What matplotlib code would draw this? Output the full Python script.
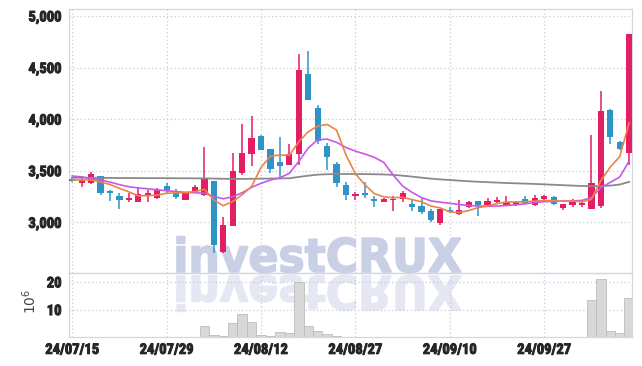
import matplotlib
matplotlib.use("Agg")
import matplotlib.pyplot as plt
import matplotlib.patheffects as pe
from matplotlib.textpath import TextPath
from matplotlib.patches import PathPatch
from matplotlib.font_manager import FontProperties
from matplotlib.transforms import Affine2D, IdentityTransform

# trading days (2024)
dates = ["07/15", "07/16", "07/17", "07/18", "07/19", "07/22", "07/23", "07/24", "07/25", "07/26",
         "07/29", "07/30", "07/31", "08/01", "08/02", "08/05", "08/06", "08/07", "08/08", "08/09",
         "08/12", "08/13", "08/14", "08/16", "08/19", "08/20", "08/21", "08/22", "08/23", "08/26",
         "08/27", "08/28", "08/29", "08/30", "09/02", "09/03", "09/04", "09/05", "09/06", "09/09",
         "09/10", "09/11", "09/12", "09/13", "09/19", "09/20", "09/23", "09/24", "09/25", "09/26",
         "09/27", "09/30", "10/02", "10/04", "10/07", "10/08", "10/10", "10/11", "10/14", "10/15"]

opens = [3420, 3385, 3385, 3450, 3305, 3255, 3215, 3200, 3265, 3235,
         3350, 3285, 3215, 3285, 3265, 3400, 2710, 2965, 3475, 3665,
         3835, 3710, 3580, 3560, 3665, 4440, 4110, 3740, 3565, 3360,
         3258, 3285, 3230, 3200, 3215, 3222, 3178, 3158, 3110, 2990,
         3120, 3078, 3145, 3205, 3168, 3198, 3172, 3165, 3222, 3165,
         3228, 3245, 3140, 3172, 3168, 3132, 3160, 4085, 3780, 3667]
highs = [3440, 3450, 3485, 3450, 3315, 3280, 3280, 3345, 3310, 3330,
         3380, 3320, 3295, 3360, 3730, 3400, 3050, 3675, 3950, 4030,
         3850, 3715, 3830, 3755, 4630, 4660, 4140, 3770, 3580, 3395,
         3298, 3395, 3255, 3240, 3255, 3305, 3225, 3238, 3130, 3130,
         3150, 3215, 3210, 3210, 3232, 3242, 3255, 3205, 3255, 3265,
         3262, 3258, 3180, 3226, 3195, 3845, 4275, 4095, 3790, 4823]
lows = [3390, 3345, 3375, 3265, 3210, 3125, 3200, 3195, 3200, 3225,
        3285, 3230, 3215, 3280, 3260, 2705, 2705, 2965, 3460, 3545,
        3700, 3475, 3440, 3555, 3555, 4185, 3755, 3505, 3345, 3215,
        3215, 3240, 3145, 3195, 3110, 3195, 3105, 3080, 3005, 2970,
        3095, 3075, 3140, 3065, 3165, 3185, 3170, 3160, 3180, 3160,
        3220, 3172, 3115, 3152, 3152, 3130, 3140, 3760, 3705, 3555]
closes = [3400, 3410, 3465, 3280, 3280, 3215, 3235, 3275, 3285, 3315,
          3300, 3250, 3290, 3340, 3420, 2780, 2975, 3495, 3670, 3820,
          3700, 3520, 3550, 3660, 4475, 4185, 3790, 3635, 3385, 3265,
          3275, 3262, 3205, 3230, 3225, 3288, 3150, 3103, 3025, 3128,
          3100, 3120, 3198, 3168, 3206, 3216, 3196, 3197, 3185, 3232,
          3252, 3175, 3177, 3200, 3184, 3380, 4080, 3830, 3710, 4823]

# volume in millions
volume = [0, 0, 0, 0, 0, 0, 0, 0, 0, 0,
          0, 0, 0, 0, 4.2, 1.0, 0.3, 5.3, 8.3, 5.4,
          1.0, 0.6, 1.8, 1.4, 19.9, 4.0, 2.1, 1.1, 0.6, 0.25,
          0.25, 0.25, 0.25, 0, 0.25, 0, 0, 0.25, 0, 0,
          0, 0, 0, 0, 0, 0, 0, 0, 0, 0,
          0, 0, 0, 0, 0, 13.4, 21.2, 2.4, 1.4, 14.0]

ma5 = [3410, 3410, 3410, 3390, 3367, 3330, 3295, 3257, 3258, 3265,
       3282, 3285, 3288, 3299, 3320, 3216, 3161, 3202, 3268, 3348,
       3532, 3641, 3652, 3650, 3781, 3878, 3932, 3949, 3894, 3652,
       3470, 3364, 3278, 3247, 3239, 3242, 3220, 3199, 3158, 3139,
       3101, 3095, 3114, 3143, 3158, 3182, 3197, 3197, 3200, 3205,
       3212, 3208, 3204, 3207, 3198, 3223, 3404, 3535, 3637, 3965]
ma20 = [3449, 3440, 3425, 3410, 3390, 3365, 3345, 3333, 3325, 3315,
        3306, 3298, 3290, 3287, 3281, 3250, 3228, 3248, 3287, 3339,
        3378, 3410, 3432, 3475, 3590, 3720, 3800, 3806, 3775, 3725,
        3690, 3662, 3630, 3581, 3458, 3352, 3290, 3240, 3208, 3195,
        3185, 3172, 3163, 3158, 3155, 3158, 3163, 3170, 3180, 3192,
        3200, 3203, 3206, 3208, 3212, 3240, 3335, 3387, 3439, 3594]
ma_long = [3432, 3432, 3431, 3431, 3430, 3430, 3429, 3429, 3428, 3428,
           3428, 3427, 3427, 3426, 3426, 3424, 3422, 3421, 3421, 3422,
           3423, 3424, 3425, 3427, 3440, 3452, 3462, 3466, 3468, 3468,
           3468, 3467, 3466, 3464, 3460, 3452, 3443, 3433, 3423, 3416,
           3410, 3404, 3398, 3393, 3389, 3385, 3381, 3378, 3375, 3372,
           3368, 3364, 3360, 3356, 3352, 3350, 3352, 3356, 3366, 3392]

tick_dates = ["07/15", "07/29", "08/12", "08/27", "09/10", "09/27"]
price_ticks = [3000, 3500, 4000, 4500, 5000]
vol_ticks = [10, 20]

UP = "#e31e64"
DOWN = "#2e94c6"
GRID = "#c9cbdd"
FRAME = "#d6d6de"
TXT = "#262626"
LABEL_FONT = ["Roboto Condensed", "Liberation Sans Narrow", "Roboto"]
bolder = [pe.withStroke(linewidth=0.7, foreground=TXT)]

fig = plt.figure(figsize=(6.42, 3.66), dpi=100)
fig.patch.set_facecolor("white")
ax = fig.add_axes([0.1067, 0.2549, 0.8777, 0.7197])
axv = fig.add_axes([0.1067, 0.0784, 0.8777, 0.1765], sharex=ax)
for a in (ax, axv):
    a.patch.set_visible(False)
    for s in a.spines.values():
        s.set_color(FRAME)
        s.set_linewidth(0.9)
    a.tick_params(length=0, labelsize=10.5, colors=TXT)

x = list(range(len(dates)))

# candles
for i in x:
    o, h, l, c = opens[i], highs[i], lows[i], closes[i]
    col = UP if c >= o else DOWN
    ax.vlines(i, l, h, color=col, linewidth=1.1, zorder=3)
    body = max(abs(c - o), 10)
    ax.bar(i, body, bottom=min(o, c), width=0.66, color=col, zorder=4)

ax.plot(x, ma_long, color="#8a8a8a", linewidth=1.3, zorder=5)
ax.plot(x, ma20, color="#c957e8", linewidth=1.2, zorder=5)
ax.plot(x, ma5, color="#ec8448", linewidth=1.2, zorder=6)

axv.bar(x, volume, width=1.0, color="#d8d8d8", edgecolor="#bdbdbd", linewidth=0.6, zorder=3)

ax.set_xlim(-0.4, 59.3)
ax.set_ylim(2512, 5064)
axv.set_ylim(0, 23.3)

tick_pos = [dates.index(d) for d in tick_dates]
axv.set_xticks(tick_pos)
axv.set_xticklabels(["24/" + d for d in tick_dates], fontweight="bold", family=LABEL_FONT)
plt.setp(ax.get_xticklabels(), visible=False)
ax.set_yticks(price_ticks)
ax.set_yticklabels([f"{v:,}" for v in price_ticks], fontweight="bold", family=LABEL_FONT)
axv.set_yticks(vol_ticks)
axv.set_yticklabels([str(v) for v in vol_ticks], fontweight="bold", family=LABEL_FONT)
ax.tick_params(axis="y", pad=5)
axv.tick_params(axis="y", pad=5)
axv.tick_params(axis="x", pad=4)
for lab in ax.get_yticklabels() + axv.get_yticklabels() + axv.get_xticklabels():
    lab.set_path_effects(bolder)

for a in (ax, axv):
    a.grid(True, color=GRID, linestyle=(0, (1, 2)), linewidth=0.9)
    a.set_axisbelow(True)

axv.set_ylabel("$10^6$", fontsize=10, color="#444444")
axv.yaxis.set_label_coords(-0.053, 0.55)

# watermark with reflection
fp = FontProperties(family="DejaVu Sans", weight="bold")
tp = TextPath((0, 0), "investCRUX", size=1, prop=fp)
ext = tp.get_extents()
x0, x1 = 177, 461
sx = (x1 - x0) / ext.width
sy = 36 / ext.height
top_t = Affine2D().translate(-ext.x0, 0).scale(sx, sy).translate(x0, 366 - 272)
bot_t = Affine2D().translate(-ext.x0, 0).scale(sx, -sy).translate(x0, 366 - 276)
fig.add_artist(PathPatch(tp, transform=top_t + IdentityTransform(), facecolor="#c9d0e6",
                         edgecolor="#c9d0e6", linewidth=1.2, zorder=-1))
fig.add_artist(PathPatch(tp, transform=bot_t + IdentityTransform(), facecolor="#e5e8f2",
                         edgecolor="#e5e8f2", linewidth=1.2, zorder=-1))

fig.savefig("out.png", dpi=100, facecolor="white")
